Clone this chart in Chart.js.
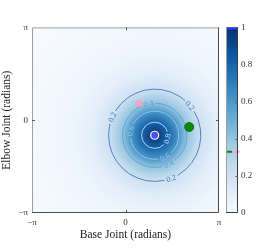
<!DOCTYPE html>
<html>
<head>
<meta charset="utf-8">
<script src="https://cdn.jsdelivr.net/npm/chart.js@4.4.1/dist/chart.umd.min.js"></script>
<style>
  html, body { margin: 0; padding: 0; background: #fff; }
  #wrap { width: 274px; height: 250px; }
</style>
</head>
<body>
<div id="wrap"><canvas id="chart" width="274" height="250"></canvas></div>
<script>
const PI = Math.PI;

// axis ticks (radians) and labels
const axisTicks = [-PI, 0, PI];
const axisTickLabels = ['\u2212\u03c0', '0', '\u03c0'];
const colorbarTicks = [0, 0.2, 0.4, 0.6, 0.8, 1];

const peakX = 0.98;
const peakY = -0.51;
const profileRadius = [0, 0.44, 0.81, 1.08, 1.55, 2.1, 2.8, 3.8, 5.2];
const profileValue = [1, 0.8, 0.6, 0.4, 0.2, 0.1, 0.05, 0.02, 0];

// contour lines
const contourLevels = [0.2, 0.4, 0.6, 0.8];
const contourRadius = [1.55, 1.08, 0.81, 0.44];

// marked joint configurations
const pointNames = ['peak', 'green', 'pink'];
const pointX = [0.98, 2.14, 0.46];
const pointY = [-0.51, -0.23, 0.57];
const pointValue = [1.0, 0.33, 0.33];

// styles
const pointFill = ['#4b4bff', '#0b8a0b', '#f7a3c8'];
const pointBorder = ['#ffffff', '#06600a', '#f7a3c8'];
const pointSize = [4, 4.5, 3.5];
const contourColors = ['#3b78c2', '#5c9ed6', '#9ac6ea', '#c6e0f5'];
const labelAngles = [[-157, -40, 69], [-101, 64], [-170, 65], [15]]; // degrees, screen coords
const serif = '"Liberation Serif", "DejaVu Serif", serif';

// matplotlib-style Blues colormap
const blues = [[247,251,255],[222,235,247],[198,219,239],[158,202,225],[107,174,214],[66,146,198],[33,113,181],[8,81,156],[8,48,107]];
function blueAt(v) {
  v = Math.max(0, Math.min(1, v));
  const f = v * (blues.length - 1);
  const i = Math.min(Math.floor(f), blues.length - 2);
  const t = f - i;
  const c = blues[i].map((c0, k) => Math.round(c0 + (blues[i + 1][k] - c0) * t));
  return `rgb(${c[0]},${c[1]},${c[2]})`;
}

const fieldPlugin = {
  id: 'field',
  beforeDatasetsDraw(chart) {
    const {ctx, chartArea: a, scales: {x, y}} = chart;
    const cx = x.getPixelForValue(peakX), cy = y.getPixelForValue(peakY);
    const ppu = x.getPixelForValue(1) - x.getPixelForValue(0);
    const rMax = profileRadius[profileRadius.length - 1] * ppu;

    ctx.save();
    ctx.beginPath();
    ctx.rect(a.left, a.top, a.width, a.height);
    ctx.clip();

    const g = ctx.createRadialGradient(cx, cy, 0, cx, cy, rMax);
    profileRadius.forEach((r, i) => g.addColorStop(r * ppu / rMax, blueAt(profileValue[i])));
    ctx.fillStyle = g;
    ctx.fillRect(a.left, a.top, a.width, a.height);

    // contours with inline labels
    ctx.font = '8px ' + serif;
    ctx.textAlign = 'center';
    ctx.textBaseline = 'middle';
    contourLevels.forEach((lv, i) => {
      const r = contourRadius[i] * ppu;
      const txt = lv.toFixed(1);
      const w = ctx.measureText(txt).width;
      const gap = (w / 2 + 2) / r;
      const angs = labelAngles[i].map(d => d * PI / 180).sort((p, q) => p - q);
      ctx.strokeStyle = contourColors[i];
      ctx.lineWidth = 0.9;
      angs.forEach((a0, k) => {
        let a1 = k + 1 < angs.length ? angs[k + 1] : angs[0] + 2 * PI;
        ctx.beginPath();
        ctx.arc(cx, cy, r, a0 + gap, a1 - gap);
        ctx.stroke();
      });
      ctx.fillStyle = contourColors[i];
      angs.forEach(an => {
        let rot = an + PI / 2;
        while (rot > PI / 2) rot -= PI;
        while (rot <= -PI / 2) rot += PI;
        ctx.save();
        ctx.translate(cx + r * Math.cos(an), cy + r * Math.sin(an));
        ctx.rotate(rot);
        ctx.fillText(txt, 0, 0.5);
        ctx.restore();
      });
    });
    ctx.restore();
  },
  afterDraw(chart) {
    const {ctx, chartArea: a, scales: {x, y, cb}} = chart;
    ctx.save();
    // frame
    ctx.lineWidth = 1;
    ctx.strokeStyle = '#a0a0a0';
    ctx.beginPath();
    ctx.moveTo(a.left + 0.5, a.bottom); ctx.lineTo(a.left + 0.5, a.top + 0.5); ctx.lineTo(a.right, a.top + 0.5);
    ctx.stroke();
    ctx.strokeStyle = '#4a4a4a';
    ctx.beginPath();
    ctx.moveTo(a.right - 0.5, a.top); ctx.lineTo(a.right - 0.5, a.bottom - 0.5); ctx.lineTo(a.left, a.bottom - 0.5);
    ctx.stroke();
    // inward ticks at 0
    const x0 = Math.round(x.getPixelForValue(0)) + 0.5;
    const y0 = Math.round(y.getPixelForValue(0)) + 0.5;
    ctx.strokeStyle = '#555';
    ctx.beginPath();
    ctx.moveTo(x0, a.bottom); ctx.lineTo(x0, a.bottom - 3);
    ctx.moveTo(x0, a.top); ctx.lineTo(x0, a.top + 3);
    ctx.moveTo(a.left, y0); ctx.lineTo(a.left + 3, y0);
    ctx.moveTo(a.right, y0); ctx.lineTo(a.right - 3, y0);
    ctx.stroke();

    // colorbar
    const bx0 = a.right + 7, bx1 = a.right + 19;
    const top = cb.getPixelForValue(1), bot = cb.getPixelForValue(0);
    const lg = ctx.createLinearGradient(0, bot, 0, top);
    blues.forEach((c, i) => lg.addColorStop(i / (blues.length - 1), `rgb(${c[0]},${c[1]},${c[2]})`));
    ctx.fillStyle = lg;
    ctx.fillRect(bx0, top, bx1 - bx0, bot - top);

    // markers of the point values on the colorbar
    const groups = {};
    pointValue.forEach((v, i) => { const k = v.toFixed(2); (groups[k] = groups[k] || []).push(i); });
    Object.values(groups).forEach(idx => {
      const seg = (bx1 - bx0) / idx.length;
      idx.forEach((i, k) => {
        const py = cb.getPixelForValue(pointValue[i]);
        const yy = Math.min(Math.max(py - 1, top), bot - 2);
        ctx.fillStyle = i === 0 ? '#3636ff' : pointFill[i];
        ctx.fillRect(bx0 + k * seg, yy, seg + (k === idx.length - 1 && idx.length > 1 ? 1.5 : 0), 2);
      });
    });

    ctx.strokeStyle = '#a0a0a0';
    ctx.beginPath(); ctx.moveTo(bx0 + 0.5, top); ctx.lineTo(bx0 + 0.5, bot); ctx.stroke();
    ctx.strokeStyle = '#3a3a3a';
    ctx.beginPath();
    ctx.moveTo(bx1 - 0.5, top); ctx.lineTo(bx1 - 0.5, bot - 0.5); ctx.lineTo(bx0, bot - 0.5);
    ctx.stroke();
    ctx.strokeStyle = '#555';
    ctx.beginPath();
    colorbarTicks.slice(1, -1).forEach(v => {
      const ty = Math.round(cb.getPixelForValue(v)) + 0.5;
      ctx.moveTo(bx1, ty); ctx.lineTo(bx1 - 2.5, ty);
    });
    ctx.stroke();
    ctx.restore();
  }
};

const tickFont = {family: serif, size: 9};
const titleFont = {family: serif, size: 11.5};

new Chart(document.getElementById('chart'), {
  type: 'scatter',
  data: {
    datasets: [{
      label: 'configurations',
      data: pointX.map((px, i) => ({x: px, y: pointY[i]})),
      pointRadius: pointSize,
      pointBackgroundColor: pointFill,
      pointBorderColor: pointBorder,
      pointBorderWidth: [1.2, 0.8, 0],
      pointHoverRadius: pointSize
    }]
  },
  options: {
    responsive: false,
    animation: false,
    layout: { padding: { top: 26, left: 0, right: 0, bottom: 0 } },
    plugins: { legend: { display: false }, tooltip: { enabled: false } },
    scales: {
      x: {
        type: 'linear', min: -PI, max: PI,
        afterBuildTicks: s => { s.ticks = axisTicks.map(v => ({value: v})); },
        afterFit: s => { s.height = 37; },
        ticks: { callback: (v, i) => axisTickLabels[i], font: tickFont, color: '#333', padding: 4, maxRotation: 0, autoSkip: false },
        grid: { display: false, drawTicks: false },
        border: { display: false },
        title: { display: true, text: 'Base Joint (radians)', font: titleFont, color: '#222', padding: {top: 0, bottom: 8} }
      },
      y: {
        type: 'linear', min: -PI, max: PI, position: 'left',
        afterBuildTicks: s => { s.ticks = axisTicks.map(v => ({value: v})); },
        afterFit: s => { s.width = 32; },
        ticks: { callback: (v, i) => axisTickLabels[i], font: tickFont, color: '#333', padding: 4, autoSkip: false },
        grid: { display: false, drawTicks: false },
        border: { display: false },
        title: { display: true, text: 'Elbow Joint (radians)', font: titleFont, color: '#222', padding: {top: 0.5, bottom: 0} }
      },
      cb: {
        type: 'linear', min: 0, max: 1, position: 'right',
        afterBuildTicks: s => { s.ticks = colorbarTicks.map(v => ({value: v})); },
        afterFit: s => { s.width = 55; },
        ticks: { callback: v => (v === 0 || v === 1) ? String(v) : v.toFixed(1), font: tickFont, color: '#333', padding: 22, autoSkip: false },
        grid: { display: false, drawTicks: false },
        border: { display: false }
      }
    }
  },
  plugins: [fieldPlugin]
});
</script>
</body>
</html>
